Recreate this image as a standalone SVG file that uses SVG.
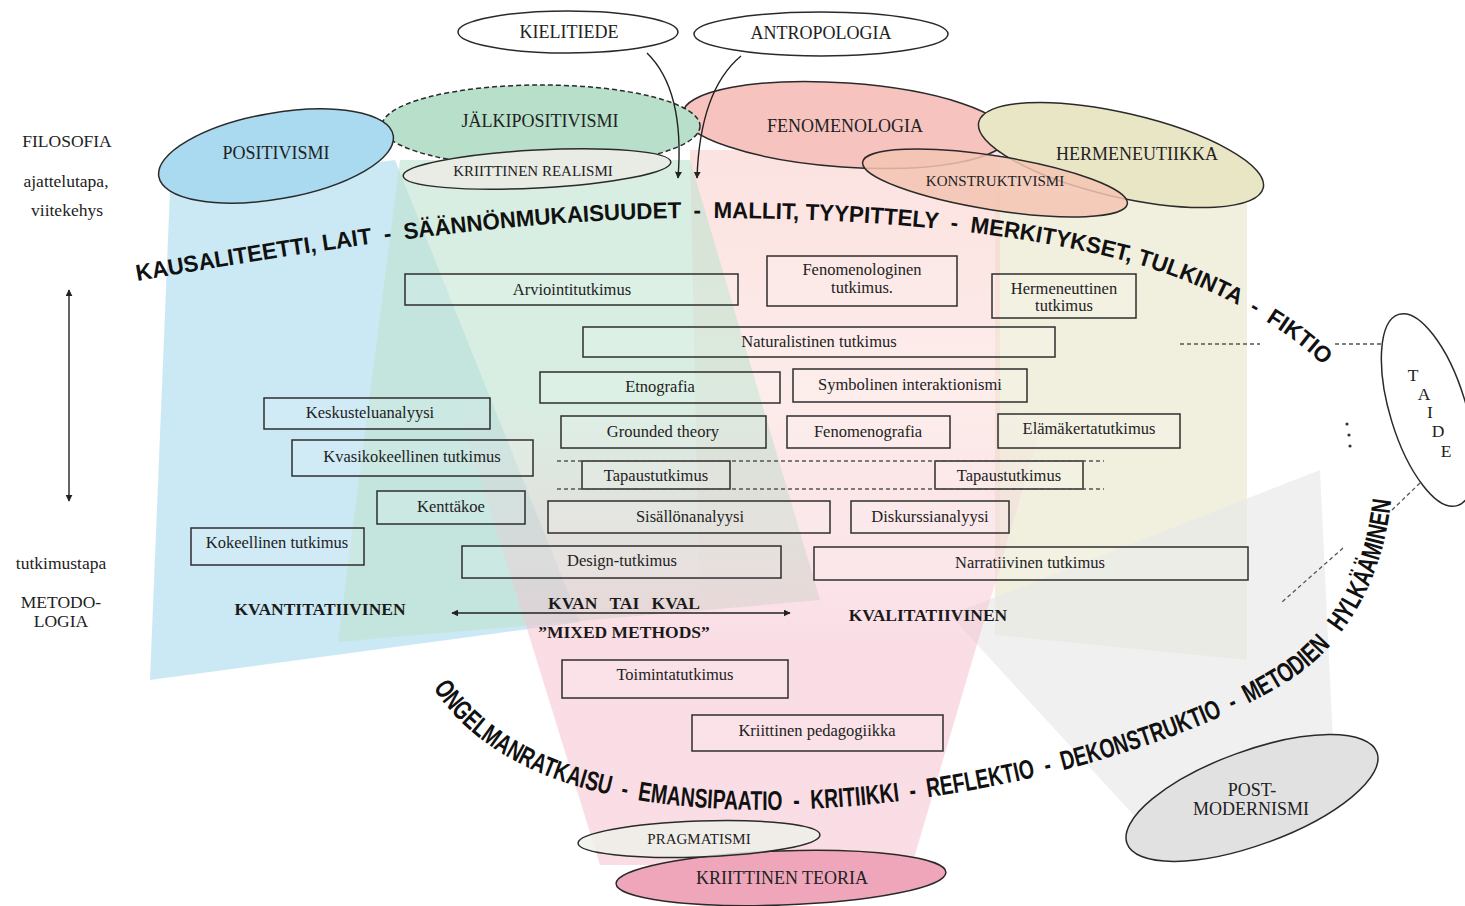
<svg xmlns="http://www.w3.org/2000/svg" width="1465" height="906" viewBox="0 0 1465 906">
<style>
.box{fill:#ffffff;fill-opacity:.12;stroke:#2e2e2e;stroke-width:1.5}
.bt{font-family:"Liberation Serif","Times New Roman",serif;font-size:16.5px;fill:#222;text-anchor:middle}
.et{font-family:"Liberation Serif","Times New Roman",serif;font-size:18px;fill:#222;text-anchor:middle}
.st{font-family:"Liberation Serif","Times New Roman",serif;font-size:15px;fill:#222;text-anchor:middle}
.lab{font-family:"Liberation Serif","Times New Roman",serif;font-size:17.5px;fill:#222;text-anchor:middle}
.bold{font-family:"Liberation Serif","Times New Roman",serif;font-size:17.5px;font-weight:bold;fill:#1a1a1a;text-anchor:middle}
.arc{font-family:"Liberation Sans",Arial,sans-serif;font-weight:bold;fill:#111;white-space:pre}
.ell{stroke:#2a2a2a;stroke-width:1.5}
.dash{stroke:#555;stroke-width:1.3;stroke-dasharray:4 3;fill:none}
.conn{stroke:#222;stroke-width:1.4;fill:none}
</style>
<defs>
<marker id="ah" viewBox="0 0 10 10" refX="9" refY="5" markerWidth="7" markerHeight="7" orient="auto-start-reverse" markerUnits="userSpaceOnUse">
<path d="M0,0 L10,5 L0,10 z" fill="#222"/>
</marker>
<linearGradient id="gPinkBottom" gradientUnits="userSpaceOnUse" x1="0" y1="400" x2="0" y2="640">
<stop offset="0" stop-color="#f6c2cf" stop-opacity="0"/>
<stop offset="1" stop-color="#f6c2cf" stop-opacity="0.55"/>
</linearGradient>
<linearGradient id="gPinkTop" gradientUnits="userSpaceOnUse" x1="0" y1="160" x2="0" y2="620">
<stop offset="0" stop-color="#f9d0cc" stop-opacity="0.6"/>
<stop offset="0.7" stop-color="#f9d0cc" stop-opacity="0.35"/>
<stop offset="1" stop-color="#f9d0cc" stop-opacity="0"/>
</linearGradient>
<path id="topArc" d="M 137 281 C 400 235, 560 218, 700 218 C 850 218, 1000 228, 1130 262 C 1200 282, 1280 320, 1330 372"/>
<path id="botArc" d="M 433 688 C 482 762, 580 808, 760 810 C 960 810, 1180 750, 1290 680 C 1342 647, 1386 580, 1392 490"/>
</defs>

<g id="background">
<polygon points="995,190 1247,195 1247,660 995,635" fill="#efedd9" fill-opacity="0.85"/>
<polygon points="1320,470 950,615 1140,822 1333,742" fill="#e8e8e8" fill-opacity="0.65"/>
<polygon points="690,150 1000,150 1000,620 700,630" fill="url(#gPinkTop)"/>
<polygon points="170,190 395,160 580,622 150,680" fill="#b9e1f2" fill-opacity="0.75"/>
<polygon points="400,160 690,160 820,600 338,642" fill="#bfe3cf" fill-opacity="0.6"/>
<polygon points="450,380 1055,380 912,865 600,865" fill="url(#gPinkBottom)"/>
</g>

<g id="labels-left">
<text class="lab" x="67" y="147">FILOSOFIA</text>
<text class="lab" x="66" y="187">ajattelutapa,</text>
<text class="lab" x="67" y="216">viitekehys</text>
<text class="lab" x="61" y="569">tutkimustapa</text>
<text class="lab" x="61" y="608">METODO-</text>
<text class="lab" x="61" y="627">LOGIA</text>
</g>

<g id="node-fenomenologia"><ellipse class="ell" cx="845" cy="125" rx="163" ry="42" transform="rotate(4 845 125)" fill="#f7c3bf"/><text class="et" x="845" y="132">FENOMENOLOGIA</text></g>
<g id="node-jalkipositivismi"><ellipse cx="541" cy="126" rx="159" ry="41" fill="#b8dfca" stroke="#2a2a2a" stroke-width="1.5" stroke-dasharray="5 3"/><text class="et" x="540" y="127">JÄLKIPOSITIVISMI</text></g>
<g id="node-positivismi"><ellipse class="ell" cx="276" cy="156" rx="119" ry="43" transform="rotate(-10 276 156)" fill="#a9daf0"/><text class="et" x="276" y="159">POSITIVISMI</text></g>
<g id="node-kriittinen-realismi"><ellipse class="ell" cx="537" cy="169" rx="134" ry="19" transform="rotate(-3 537 169)" fill="#e9ebe5"/><text class="st" x="533" y="176">KRIITTINEN REALISMI</text></g>
<g id="node-hermeneutiikka"><ellipse class="ell" cx="1121" cy="155" rx="146" ry="42" transform="rotate(13 1121 155)" fill="#e9e6c6"/><text class="et" x="1137" y="160">HERMENEUTIIKKA</text></g>
<g id="node-konstruktivismi"><ellipse class="ell" cx="995" cy="183" rx="134" ry="27" transform="rotate(9 995 183)" fill="#f3c4b1" fill-opacity="0.85"/><text class="st" x="995" y="186">KONSTRUKTIVISMI</text></g>
<g id="node-kielitiede"><ellipse class="ell" cx="568" cy="32" rx="110" ry="21" fill="#ffffff"/><text class="et" x="569" y="38">KIELITIEDE</text></g>
<g id="node-antropologia"><ellipse class="ell" cx="821" cy="34" rx="127" ry="22" fill="#ffffff"/><text class="et" x="821" y="39">ANTROPOLOGIA</text></g>
<g id="node-taide"><ellipse class="ell" cx="1428" cy="410" rx="38" ry="100" transform="rotate(-17 1428 410)" fill="#ffffff"/>
<text class="lab" x="1413" y="381">T</text><text class="lab" x="1424" y="400">A</text><text class="lab" x="1430" y="418">I</text><text class="lab" x="1438" y="437">D</text><text class="lab" x="1446" y="457">E</text></g>
<g id="node-postmodernismi"><ellipse class="ell" cx="1252" cy="798" rx="133" ry="47" transform="rotate(-20 1252 798)" fill="#e1e1e1"/><text class="et" x="1252" y="796">POST-</text><text class="et" x="1251" y="815">MODERNISMI</text></g>
<g id="node-kriittinen-teoria"><ellipse class="ell" cx="781" cy="878" rx="165" ry="27" transform="rotate(-2 781 878)" fill="#efa6bb"/><text class="et" x="782" y="884">KRIITTINEN TEORIA</text></g>
<g id="node-pragmatismi"><ellipse class="ell" cx="699" cy="839" rx="121" ry="18" transform="rotate(-2 699 839)" fill="#eef1ea" fill-opacity="0.8"/><text class="st" x="699" y="844">PRAGMATISMI</text></g>

<g id="node-arviointitutkimus"><rect class="box" x="405" y="274" width="333" height="31"/><text class="bt" x="572" y="295">Arviointitutkimus</text></g>
<g id="node-fenomenologinen"><rect class="box" x="767" y="256" width="190" height="50"/><text class="bt" x="862" y="275">Fenomenologinen</text><text class="bt" x="862" y="293">tutkimus.</text></g>
<g id="node-hermeneuttinen"><rect class="box" x="992" y="274" width="144" height="44"/><text class="bt" x="1064" y="294">Hermeneuttinen</text><text class="bt" x="1064" y="311">tutkimus</text></g>
<g id="node-naturalistinen"><rect class="box" x="583" y="327" width="472" height="30"/><text class="bt" x="819" y="347">Naturalistinen tutkimus</text></g>
<g id="node-etnografia"><rect class="box" x="540" y="372" width="240" height="31"/><text class="bt" x="660" y="392">Etnografia</text></g>
<g id="node-symbolinen"><rect class="box" x="793" y="369" width="234" height="33"/><text class="bt" x="910" y="390">Symbolinen interaktionismi</text></g>
<g id="node-keskusteluanalyysi"><rect class="box" x="264" y="398" width="226" height="31"/><text class="bt" x="370" y="418">Keskusteluanalyysi</text></g>
<g id="node-grounded"><rect class="box" x="561" y="416" width="205" height="32"/><text class="bt" x="663" y="437">Grounded theory</text></g>
<g id="node-fenomenografia"><rect class="box" x="787" y="416" width="163" height="32"/><text class="bt" x="868" y="437">Fenomenografia</text></g>
<g id="node-elamakerta"><rect class="box" x="998" y="414" width="182" height="34"/><text class="bt" x="1089" y="434">Elämäkertatutkimus</text></g>
<g id="node-kvasikokeellinen"><rect class="box" x="292" y="440" width="241" height="36"/><text class="bt" x="412" y="462">Kvasikokeellinen tutkimus</text></g>
<g id="node-tapaus-1"><rect class="box" x="582" y="461" width="148" height="28"/><text class="bt" x="656" y="481">Tapaustutkimus</text></g>
<g id="node-tapaus-2"><rect class="box" x="935" y="461" width="148" height="28"/><text class="bt" x="1009" y="481">Tapaustutkimus</text></g>
<g id="node-kenttakoe"><rect class="box" x="377" y="491" width="148" height="33"/><text class="bt" x="451" y="512">Kenttäkoe</text></g>
<g id="node-sisallonanalyysi"><rect class="box" x="548" y="501" width="282" height="32"/><text class="bt" x="690" y="522">Sisällönanalyysi</text></g>
<g id="node-diskurssianalyysi"><rect class="box" x="851" y="501" width="158" height="32"/><text class="bt" x="930" y="522">Diskurssianalyysi</text></g>
<g id="node-kokeellinen"><rect class="box" x="191" y="528" width="173" height="37"/><text class="bt" x="277" y="548">Kokeellinen tutkimus</text></g>
<g id="node-design"><rect class="box" x="462" y="546" width="319" height="32"/><text class="bt" x="622" y="566">Design-tutkimus</text></g>
<g id="node-narratiivinen"><rect class="box" x="814" y="547" width="434" height="33"/><text class="bt" x="1030" y="568">Narratiivinen tutkimus</text></g>
<g id="node-toimintatutkimus"><rect class="box" x="562" y="660" width="226" height="38"/><text class="bt" x="675" y="680">Toimintatutkimus</text></g>
<g id="node-kriittinen-pedagogiikka"><rect class="box" x="692" y="715" width="251" height="36"/><text class="bt" x="817" y="736">Kriittinen pedagogiikka</text></g>

<g id="connectors">
<path class="conn" d="M 647 53 Q 685 90 678 178" marker-end="url(#ah)"/>
<path class="conn" d="M 741 56 Q 700 90 697 178" marker-end="url(#ah)"/>
<line class="conn" x1="69" y1="290" x2="69" y2="501" marker-start="url(#ah)" marker-end="url(#ah)"/>
<line class="conn" x1="452" y1="613" x2="790" y2="613" marker-start="url(#ah)" marker-end="url(#ah)"/>
<line class="dash" x1="557" y1="461" x2="1104" y2="461"/>
<line class="dash" x1="557" y1="489" x2="1104" y2="489"/>
<line class="dash" x1="1180" y1="344" x2="1260" y2="344"/>
<line class="dash" x1="1335" y1="344" x2="1384" y2="344"/>
<line class="dash" x1="1420" y1="483" x2="1392" y2="510"/>
<line class="dash" x1="1343" y1="548" x2="1282" y2="602"/>
<circle cx="1347" cy="424" r="1.6" fill="#333"/>
<circle cx="1349" cy="435" r="1.6" fill="#333"/>
<circle cx="1350" cy="446" r="1.6" fill="#333"/>
</g>

<g id="methodology-labels">
<text class="bold" x="320" y="615">KVANTITATIIVINEN</text>
<text class="bold" x="624" y="609" word-spacing="8">KVAN TAI KVAL</text>
<text class="bold" x="624" y="638">”MIXED METHODS”</text>
<text class="bold" x="928" y="621">KVALITATIIVINEN</text>
</g>

<g id="arc-texts">
<text class="arc" font-size="23" xml:space="preserve"><textPath href="#topArc" textLength="1222" lengthAdjust="spacingAndGlyphs">KAUSALITEETTI, LAIT  -  SÄÄNNÖNMUKAISUUDET  -  MALLIT, TYYPITTELY  -  MERKITYKSET, TULKINTA  -  FIKTIO</textPath></text>
<text class="arc" font-size="27" xml:space="preserve"><textPath href="#botArc" textLength="1128" lengthAdjust="spacingAndGlyphs">ONGELMANRATKAISU  -  EMANSIPAATIO  -  KRITIIKKI  -  REFLEKTIO  -  DEKONSTRUKTIO  -  METODIEN   HYLKÄÄMINEN</textPath></text>
</g>
</svg>
